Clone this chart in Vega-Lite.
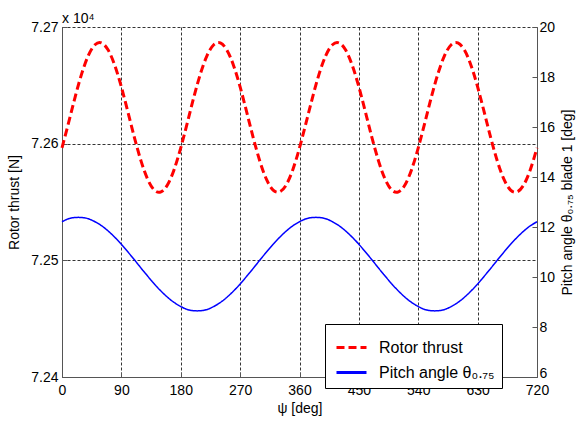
{
  "$schema": "https://vega.github.io/schema/vega-lite/v6.json",
  "width": 475,
  "height": 350,
  "autosize": {"type": "none"},
  "padding": {"left": 62, "top": 27, "right": 41, "bottom": 44},
  "background": "white",
  "title": {"text": "x 10⁴", "anchor": "start", "frame": "group", "offset": -6, "fontSize": 14, "fontWeight": "normal", "font": "Liberation Sans", "color": "#000"},
  "data": {"values": [
    {"psi": 0, "thrust": 72596.4, "pitch": 12.21},
    {"psi": 10, "thrust": 72618.0, "pitch": 12.33},
    {"psi": 20, "thrust": 72640.2, "pitch": 12.38},
    {"psi": 30, "thrust": 72660.2, "pitch": 12.38},
    {"psi": 40, "thrust": 72675.7, "pitch": 12.33},
    {"psi": 50, "thrust": 72684.8, "pitch": 12.21},
    {"psi": 60, "thrust": 72686.3, "pitch": 12.05},
    {"psi": 70, "thrust": 72680.2, "pitch": 11.84},
    {"psi": 80, "thrust": 72667.1, "pitch": 11.59},
    {"psi": 90, "thrust": 72648.6, "pitch": 11.31},
    {"psi": 100, "thrust": 72627.0, "pitch": 11.00},
    {"psi": 110, "thrust": 72604.8, "pitch": 10.68},
    {"psi": 120, "thrust": 72584.8, "pitch": 10.35},
    {"psi": 130, "thrust": 72569.3, "pitch": 10.03},
    {"psi": 140, "thrust": 72560.2, "pitch": 9.72},
    {"psi": 150, "thrust": 72558.7, "pitch": 9.44},
    {"psi": 160, "thrust": 72564.8, "pitch": 9.19},
    {"psi": 170, "thrust": 72577.9, "pitch": 8.98},
    {"psi": 180, "thrust": 72596.4, "pitch": 8.82},
    {"psi": 190, "thrust": 72618.0, "pitch": 8.70},
    {"psi": 200, "thrust": 72640.2, "pitch": 8.65},
    {"psi": 210, "thrust": 72660.2, "pitch": 8.65},
    {"psi": 220, "thrust": 72675.7, "pitch": 8.70},
    {"psi": 230, "thrust": 72684.8, "pitch": 8.82},
    {"psi": 240, "thrust": 72686.3, "pitch": 8.98},
    {"psi": 250, "thrust": 72680.2, "pitch": 9.19},
    {"psi": 260, "thrust": 72667.1, "pitch": 9.44},
    {"psi": 270, "thrust": 72648.6, "pitch": 9.72},
    {"psi": 280, "thrust": 72627.0, "pitch": 10.03},
    {"psi": 290, "thrust": 72604.8, "pitch": 10.35},
    {"psi": 300, "thrust": 72584.8, "pitch": 10.68},
    {"psi": 310, "thrust": 72569.3, "pitch": 11.00},
    {"psi": 320, "thrust": 72560.2, "pitch": 11.31},
    {"psi": 330, "thrust": 72558.7, "pitch": 11.59},
    {"psi": 340, "thrust": 72564.8, "pitch": 11.84},
    {"psi": 350, "thrust": 72577.9, "pitch": 12.05},
    {"psi": 360, "thrust": 72596.4, "pitch": 12.21},
    {"psi": 370, "thrust": 72618.0, "pitch": 12.33},
    {"psi": 380, "thrust": 72640.2, "pitch": 12.38},
    {"psi": 390, "thrust": 72660.2, "pitch": 12.38},
    {"psi": 400, "thrust": 72675.7, "pitch": 12.33},
    {"psi": 410, "thrust": 72684.8, "pitch": 12.21},
    {"psi": 420, "thrust": 72686.3, "pitch": 12.05},
    {"psi": 430, "thrust": 72680.2, "pitch": 11.84},
    {"psi": 440, "thrust": 72667.1, "pitch": 11.59},
    {"psi": 450, "thrust": 72648.6, "pitch": 11.31},
    {"psi": 460, "thrust": 72627.0, "pitch": 11.00},
    {"psi": 470, "thrust": 72604.8, "pitch": 10.68},
    {"psi": 480, "thrust": 72584.8, "pitch": 10.35},
    {"psi": 490, "thrust": 72569.3, "pitch": 10.03},
    {"psi": 500, "thrust": 72560.2, "pitch": 9.72},
    {"psi": 510, "thrust": 72558.7, "pitch": 9.44},
    {"psi": 520, "thrust": 72564.8, "pitch": 9.19},
    {"psi": 530, "thrust": 72577.9, "pitch": 8.98},
    {"psi": 540, "thrust": 72596.4, "pitch": 8.82},
    {"psi": 550, "thrust": 72618.0, "pitch": 8.70},
    {"psi": 560, "thrust": 72640.2, "pitch": 8.65},
    {"psi": 570, "thrust": 72660.2, "pitch": 8.65},
    {"psi": 580, "thrust": 72675.7, "pitch": 8.70},
    {"psi": 590, "thrust": 72684.8, "pitch": 8.82},
    {"psi": 600, "thrust": 72686.3, "pitch": 8.98},
    {"psi": 610, "thrust": 72680.2, "pitch": 9.19},
    {"psi": 620, "thrust": 72667.1, "pitch": 9.44},
    {"psi": 630, "thrust": 72648.6, "pitch": 9.72},
    {"psi": 640, "thrust": 72627.0, "pitch": 10.03},
    {"psi": 650, "thrust": 72604.8, "pitch": 10.35},
    {"psi": 660, "thrust": 72584.8, "pitch": 10.68},
    {"psi": 670, "thrust": 72569.3, "pitch": 11.00},
    {"psi": 680, "thrust": 72560.2, "pitch": 11.31},
    {"psi": 690, "thrust": 72558.7, "pitch": 11.59},
    {"psi": 700, "thrust": 72564.8, "pitch": 11.84},
    {"psi": 710, "thrust": 72577.9, "pitch": 12.05},
    {"psi": 720, "thrust": 72596.4, "pitch": 12.21}
  ]},
  "transform": [{"fold": ["thrust", "pitch"], "as": ["key", "value"]}],
  "encoding": {
    "x": {
      "field": "psi", "type": "quantitative",
      "scale": {"domain": [0, 720], "nice": false, "zero": false},
      "axis": {
        "title": "ψ [deg]",
        "values": [0, 90, 180, 270, 360, 450, 540, 630, 720],
        "labelFlush": false,
        "grid": true,
        "tickSize": -5,
        "labelPadding": 11,
        "titlePadding": 4
      }
    },
    "color": {
      "field": "key", "type": "nominal",
      "scale": {"domain": ["thrust", "pitch"], "range": ["#ff0000", "#0000ff"]},
      "legend": {
        "orient": "none", "legendX": 263, "legendY": 297, "title": null,
        "fillColor": "white", "strokeColor": "#000", "padding": 7,
        "symbolType": "stroke", "symbolSize": 900, "symbolStrokeWidth": 3,
        "symbolOffset": 3, "labelOffset": 11, "labelFontSize": 16,
        "labelFont": "Liberation Sans", "labelColor": "#000", "rowPadding": 0,
        "labelExpr": "datum.label == 'thrust' ? 'Rotor thrust' : 'Pitch angle θ₀.₇₅'"
      }
    },
    "strokeDash": {
      "field": "key", "type": "nominal",
      "scale": {"domain": ["thrust", "pitch"], "range": [[8, 4], [1, 0]]},
      "legend": {
        "orient": "none", "legendX": 263, "legendY": 297, "title": null,
        "fillColor": "white", "strokeColor": "#000", "padding": 7,
        "symbolType": "stroke", "symbolSize": 900, "symbolStrokeWidth": 3,
        "symbolOffset": 3, "labelOffset": 11, "labelFontSize": 16,
        "labelFont": "Liberation Sans", "labelColor": "#000", "rowPadding": 0,
        "labelExpr": "datum.label == 'thrust' ? 'Rotor thrust' : 'Pitch angle θ₀.₇₅'"
      }
    }
  },
  "layer": [
    {
      "transform": [{"filter": "datum.key == 'thrust'"}],
      "mark": {"type": "line", "strokeWidth": 3, "interpolate": "natural"},
      "encoding": {
        "y": {
          "field": "value", "type": "quantitative",
          "scale": {"domain": [72400, 72700], "nice": false, "zero": false},
          "axis": {
            "title": "Rotor thrust [N]",
            "values": [72400, 72500, 72600, 72700],
            "labelExpr": "format(datum.value / 10000, '.2f')",
            "grid": true,
            "tickSize": -5,
            "labelPadding": 9,
            "titlePadding": 9
          }
        }
      }
    },
    {
      "transform": [{"filter": "datum.key == 'pitch'"}],
      "mark": {"type": "line", "strokeWidth": 1.5, "interpolate": "natural"},
      "encoding": {
        "y": {
          "field": "value", "type": "quantitative",
          "scale": {"domain": [6, 20], "nice": false, "zero": false},
          "axis": {
            "orient": "right",
            "title": "Pitch angle θ₀.₇₅ blade 1 [deg]",
            "values": [6, 8, 10, 12, 14, 16, 18, 20],
            "grid": false,
            "tickSize": -5,
            "labelPadding": 7,
            "labelOffset": {"condition": {"test": "datum.value == 6", "value": -4}, "value": 0},
            "titleAngle": 270,
            "titleBaseline": "top",
            "titlePadding": 6
          }
        }
      }
    }
  ],
  "resolve": {"scale": {"y": "independent"}, "axis": {"y": "independent"}},
  "config": {
    "view": {"stroke": null},
    "axis": {
      "labelFont": "Liberation Sans",
      "labelFontSize": 14,
      "labelColor": "#000",
      "titleFont": "Liberation Sans",
      "titleFontSize": 14,
      "titleFontWeight": "normal",
      "titleColor": "#000",
      "domainColor": "#555",
      "domainWidth": 1,
      "tickColor": "#555",
      "gridColor": "#000",
      "gridDash": [3, 2],
      "gridWidth": 0.8,
      "gridOpacity": 1
    }
  }
}
